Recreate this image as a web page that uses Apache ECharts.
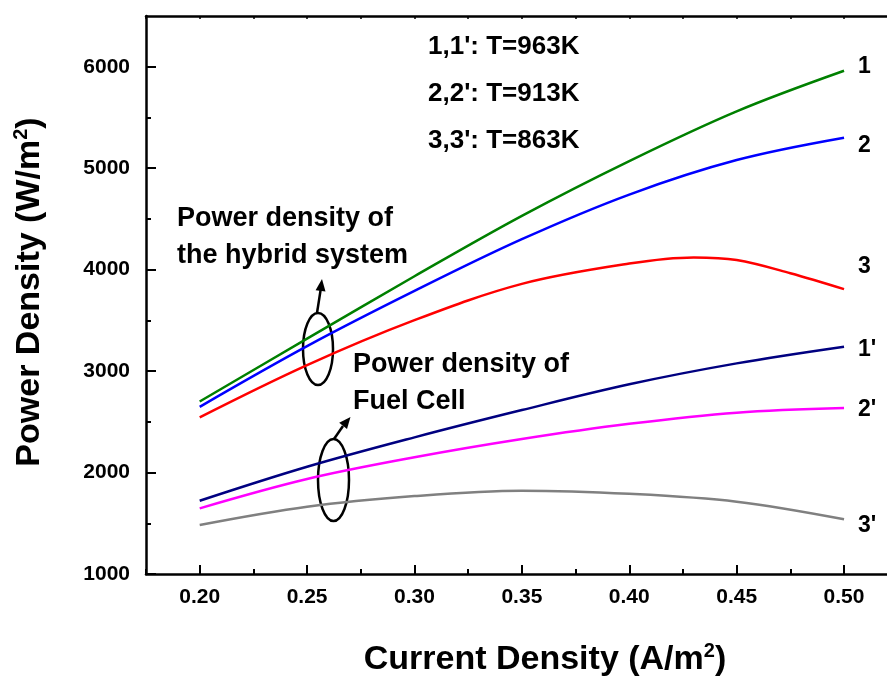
<!DOCTYPE html>
<html lang="en">
<head>
<meta charset="UTF-8">
<title>Power Density</title>
<script src="https://cdn.jsdelivr.net/npm/echarts@6/dist/echarts.min.js"></script>
<style>
  html, body { margin: 0; padding: 0; background: #fff; }
  #main { width: 887px; height: 680px; }
</style>
</head>
<body>
<div id="main"></div>
<script>
  // current density (A/m2)
  const xs = [0.20, 0.25, 0.30, 0.35, 0.40, 0.45, 0.50];
  // hybrid system power density (W/m2)
  const pd1 = [2700, 3320, 3935, 4530, 5070, 5560, 5960];
  const pd2 = [2648, 3246, 3790, 4300, 4740, 5080, 5300];
  const xs3 = [0.20, 0.25, 0.30, 0.35, 0.40, 0.43, 0.45, 0.475, 0.50];
  const pd3 = [2544, 3059, 3502, 3860, 4060, 4120, 4095, 3965, 3808];
  // fuel cell power density (W/m2)
  const fc1 = [1722, 2057, 2347, 2616, 2870, 3076, 3240];
  const fc2 = [1647, 1936, 2150, 2330, 2480, 2590, 2635];
  const fc3 = [1483, 1663, 1768, 1821, 1790, 1712, 1539];

  const xTicks = [0.20, 0.25, 0.30, 0.35, 0.40, 0.45, 0.50];
  const xMinor = [0.175, 0.225, 0.275, 0.325, 0.375, 0.425, 0.475];
  const xTop = [0.175, 0.20, 0.225, 0.25, 0.275, 0.30, 0.325, 0.35, 0.375, 0.40, 0.425, 0.45, 0.475, 0.50];
  const yTicks = [1000, 2000, 3000, 4000, 5000, 6000];
  const yMinor = [1500, 2500, 3500, 4500, 5500];
  const curveNames = ['1', '2', '3', "1'", "2'", "3'"];
  const tempNotes = ["1,1': T=963K", "2,2': T=913K", "3,3': T=863K"];

  const FONT = '"Liberation Sans", Arial, sans-serif';
  var chartDom = document.getElementById('main');
  var myChart = echarts.init(chartDom);

  function pairs(x, y) {
    return x.map(function (v, i) { return [v, y[i]]; });
  }

  function curve(name, data, color, dy) {
    return {
      name: name,
      type: 'line',
      data: data,
      showSymbol: false,
      smooth: 0.35,
      color: color,
      lineStyle: { color: color, width: 2.5 },
      endLabel: {
        show: true,
        formatter: name,
        distance: 14,
        offset: [0, dy],
        color: '#000',
        fontFamily: FONT,
        fontWeight: 'bold',
        fontSize: 23
      },
      animation: false
    };
  }

  var tickFont = { fontFamily: FONT, fontWeight: 'bold', fontSize: 21, color: '#000' };

  var option = {
    animation: false,
    grid: { left: 146, top: 16, width: 741, height: 558, outerBoundsMode: 'none' },
    xAxis: [
      {
        type: 'value', min: 0.175, max: 0.52, position: 'bottom',
        axisLine: { onZero: false, lineStyle: { color: '#000', width: 2.5 } },
        axisTick: { inside: true, length: 9, customValues: xTicks, lineStyle: { color: '#000', width: 2 } },
        axisLabel: Object.assign({ customValues: xTicks, margin: 13, formatter: function (v) { return v.toFixed(2); } }, tickFont),
        splitLine: { show: false }
      },
      {
        type: 'value', min: 0.175, max: 0.52, position: 'bottom',
        axisLine: { show: false },
        axisTick: { inside: true, length: 5, customValues: xMinor, lineStyle: { color: '#000', width: 2 } },
        axisLabel: { show: false },
        splitLine: { show: false }
      },
      {
        type: 'value', min: 0.175, max: 0.52, position: 'top',
        axisLine: { onZero: false, lineStyle: { color: '#000', width: 2.5 } },
        axisTick: { inside: true, length: 3, customValues: xTop, lineStyle: { color: '#000', width: 1.5 } },
        axisLabel: { show: false },
        splitLine: { show: false }
      }
    ],
    yAxis: [
      {
        type: 'value', min: 1000, max: 6500, position: 'left',
        axisLine: { show: true, onZero: false, lineStyle: { color: '#000', width: 2.5 } },
        axisTick: { show: true, inside: true, length: 10, customValues: yTicks, lineStyle: { color: '#000', width: 2 } },
        axisLabel: Object.assign({ customValues: yTicks, margin: 16, formatter: function (v) { return String(v); } }, tickFont),
        splitLine: { show: false }
      },
      {
        type: 'value', min: 1000, max: 6500, position: 'left',
        axisLine: { show: false },
        axisTick: { show: true, inside: true, length: 5, customValues: yMinor, lineStyle: { color: '#000', width: 2 } },
        axisLabel: { show: false },
        splitLine: { show: false }
      }
    ],
    series: [
      curve(curveNames[0], pairs(xs, pd1), '#008000', -4),
      curve(curveNames[1], pairs(xs, pd2), '#0000ff', 8),
      curve(curveNames[2], pairs(xs3, pd3), '#ff0000', -22),
      curve(curveNames[3], pairs(xs, fc1), '#000080', 3),
      curve(curveNames[4], pairs(xs, fc2), '#ff00ff', 2),
      curve(curveNames[5], pairs(xs, fc3), '#808080', 6)
    ],
    graphic: [
      // axis titles
      {
        type: 'text', x: 30, y: 292, rotation: Math.PI / 2,
        style: {
          text: 'Power Density (W/m{sup|2})', fill: '#000', font: 'bold 34px ' + FONT,
          align: 'center', verticalAlign: 'middle',
          rich: { sup: { fontSize: 20, fontWeight: 'bold', fontFamily: FONT, padding: [0, 0, 18, 0] } }
        }
      },
      {
        type: 'text', x: 545, y: 660,
        style: {
          text: 'Current Density (A/m{sup|2})', fill: '#000', font: 'bold 34px ' + FONT,
          align: 'center', verticalAlign: 'middle',
          rich: { sup: { fontSize: 20, fontWeight: 'bold', fontFamily: FONT, padding: [0, 0, 18, 0] } }
        }
      },
      // temperature notes
      { type: 'text', x: 428, y: 47, style: { text: tempNotes[0], fill: '#000', font: 'bold 26px ' + FONT, verticalAlign: 'middle' } },
      { type: 'text', x: 428, y: 94, style: { text: tempNotes[1], fill: '#000', font: 'bold 26px ' + FONT, verticalAlign: 'middle' } },
      { type: 'text', x: 428, y: 141, style: { text: tempNotes[2], fill: '#000', font: 'bold 26px ' + FONT, verticalAlign: 'middle' } },
      // hybrid system annotation
      { type: 'text', x: 177, y: 219, style: { text: 'Power density of', fill: '#000', font: 'bold 27px ' + FONT, verticalAlign: 'middle' } },
      { type: 'text', x: 177, y: 256, style: { text: 'the hybrid system', fill: '#000', font: 'bold 27px ' + FONT, verticalAlign: 'middle' } },
      { type: 'ellipse', shape: { cx: 318, cy: 349, rx: 15, ry: 36 }, style: { fill: 'none', stroke: '#000', lineWidth: 2.5 } },
      { type: 'line', shape: { x1: 317, y1: 313, x2: 320.6, y2: 290 }, style: { stroke: '#000', lineWidth: 2.5 } },
      { type: 'polygon', shape: { points: [[322, 279], [325.5, 291.5], [315.6, 290.3]] }, style: { fill: '#000' } },
      // fuel cell annotation
      { type: 'text', x: 353, y: 365, style: { text: 'Power density of', fill: '#000', font: 'bold 27px ' + FONT, verticalAlign: 'middle' } },
      { type: 'text', x: 353, y: 402, style: { text: 'Fuel Cell', fill: '#000', font: 'bold 27px ' + FONT, verticalAlign: 'middle' } },
      { type: 'ellipse', shape: { cx: 333.5, cy: 480, rx: 15.5, ry: 41 }, style: { fill: 'none', stroke: '#000', lineWidth: 2.5 } },
      { type: 'line', shape: { x1: 334, y1: 439, x2: 343, y2: 426 }, style: { stroke: '#000', lineWidth: 2.5 } },
      { type: 'polygon', shape: { points: [[350.5, 417], [347, 429.1], [339.2, 422.7]] }, style: { fill: '#000' } }
    ]
  };

  option && myChart.setOption(option);
</script>
</body>
</html>
